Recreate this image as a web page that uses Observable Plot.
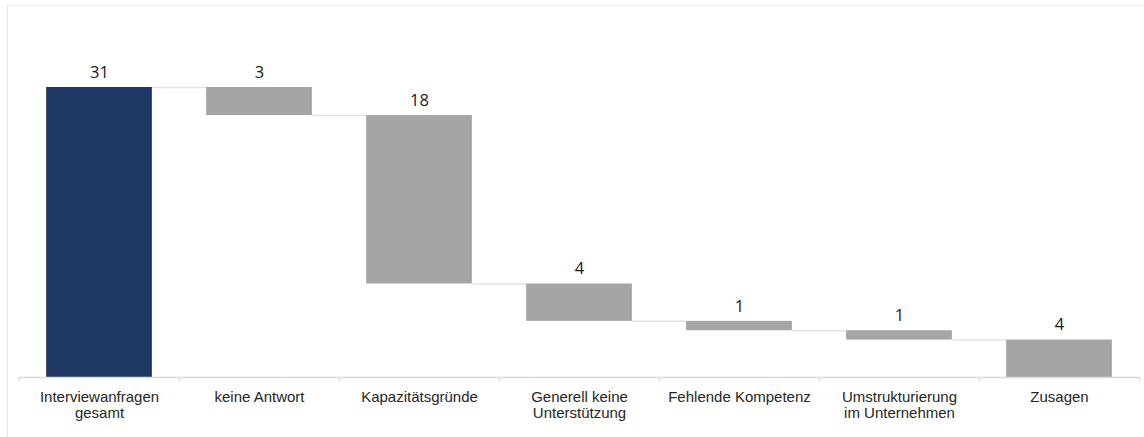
<!DOCTYPE html>
<html>
<head>
<meta charset="utf-8">
<script src="https://cdn.jsdelivr.net/npm/d3@7"></script>
<script src="https://cdn.jsdelivr.net/npm/@observablehq/plot@0.6"></script>
<style>
  html, body { margin: 0; padding: 0; background: #fff; }
  #wrap { position: relative; width: 1144px; height: 437px; overflow: hidden; }
  #frame { position: absolute; left: 7px; top: 5px; width: 2000px; height: 2000px;
           border-top: 1.5px solid #ececec; border-left: 1.5px solid #e6e6e6; pointer-events: none; }
  #chart { position: absolute; left: 0; top: 0; }
</style>
</head>
<body>
<div id="wrap"><div id="frame"></div><div id="chart"></div></div>
<script>
const categories = [
  "Interviewanfragen\ngesamt",
  "keine Antwort",
  "Kapazitätsgründe",
  "Generell keine\nUnterstützung",
  "Fehlende Kompetenz",
  "Umstrukturierung\nim Unternehmen",
  "Zusagen"
];
const values = [31, 3, 18, 4, 1, 1, 4];
const kinds = ["total", "step", "step", "step", "step", "step", "total"];

// Build waterfall rows
let running = 0;
const rows = categories.map((c, i) => {
  let y1, y2;
  if (kinds[i] === "total") { y1 = 0; y2 = values[i]; running = values[i]; }
  else { y1 = running; y2 = running - values[i]; running = y2; }
  return { cat: c, value: values[i], kind: kinds[i], y1, y2, top: Math.max(y1, y2), end: running, idx: i };
});
const connectors = rows.slice(0, -1).map((r, i) => ({ a: r.cat, b: rows[i + 1].cat, level: r.end }));

const W = 1144, H = 437, mL = 18, mR = 4, mT = 87, mB = 60;
const bw = (W - mL - mR) / categories.length;
const barW = 106;
const inset = (bw - barW) / 2;

const chart = Plot.plot({
  width: W,
  height: H,
  marginLeft: mL,
  marginRight: mR,
  marginTop: mT,
  marginBottom: mB,
  style: { background: "transparent", overflow: "visible" },
  x: { type: "band", domain: categories, padding: 0, axis: null },
  y: { domain: [0, 31], axis: null },
  marks: [
    Plot.ruleY(connectors, {
      x1: "a", x2: "b", y: "level",
      insetLeft: inset + barW, insetRight: inset + barW,
      stroke: "#e2e2e2", strokeWidth: 1.5
    }),
    Plot.barY(rows, {
      x: "cat", y1: "y1", y2: "y2",
      insetLeft: inset, insetRight: inset,
      fill: d => d.idx === 0 ? "#203864" : "#a5a5a5"
    }),
    Plot.ruleY([0], { stroke: "#d9d9d9", strokeWidth: 1.5 }),
    Plot.ruleX(categories, { x: d => d, y1: 0, y2: -0.45, dx: -bw / 2, stroke: "#d9d9d9", strokeWidth: 1.2 }),
    Plot.ruleX([categories[categories.length - 1]], { x: d => d, y1: 0, y2: -0.45, dx: bw / 2, stroke: "#d9d9d9", strokeWidth: 1.2 }),
    Plot.text(rows, {
      x: "cat", y: "top", text: d => String(d.value), dy: -15,
      fontSize: 16.5, fontFamily: "'Open Sans', sans-serif", fill: "#1a1a1a"
    }),
    Plot.axisX({
      domain: categories, tickSize: 0, tickPadding: 12, fontSize: 15, lineHeight: 1.13,
      fontFamily: "'Liberation Sans', Arial, sans-serif", color: "#262626", label: null
    })
  ]
});
document.getElementById("chart").appendChild(chart);
</script>
</body>
</html>
